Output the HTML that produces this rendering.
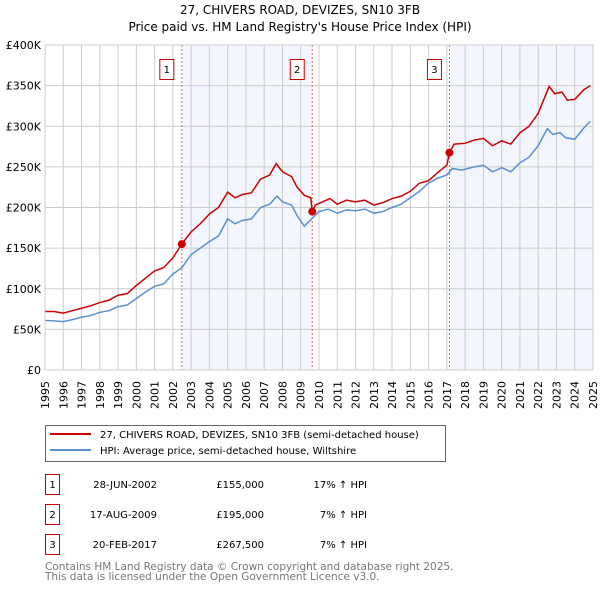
<!DOCTYPE html>
<html><head><meta charset="utf-8"><style>
body{margin:0;background:#fff;font-family:"DejaVu Sans","Liberation Sans",sans-serif;}
svg text{font-family:"DejaVu Sans","Liberation Sans",sans-serif;}
</style></head><body>
<svg id="chart" width="600" height="590" xmlns="http://www.w3.org/2000/svg">
<text x="300" y="14" text-anchor="middle" font-size="12">27, CHIVERS ROAD, DEVIZES, SN10 3FB</text>
<text x="300" y="31" text-anchor="middle" font-size="12">Price paid vs. HM Land Registry's House Price Index (HPI)</text>
<g id="plot"></g>
<g>
<rect x="45.5" y="425.5" width="400" height="36" fill="#fff" stroke="#666"/>
<line x1="50" y1="434" x2="91" y2="434" stroke="#cc0000" stroke-width="2"/>
<text x="100" y="438" font-size="10">27, CHIVERS ROAD, DEVIZES, SN10 3FB (semi-detached house)</text>
<line x1="50" y1="450" x2="91" y2="450" stroke="#5b8fd4" stroke-width="2"/>
<text x="100" y="454" font-size="10">HPI: Average price, semi-detached house, Wiltshire</text>
</g>
<g id="table" font-size="10"></g>
<text x="45" y="570" font-size="10.5" fill="#777">Contains HM Land Registry data © Crown copyright and database right 2025.</text>
<text x="45" y="580" font-size="10.5" fill="#777">This data is licensed under the Open Government Licence v3.0.</text>
</svg>
<script>
const hpiDates=[1995.0,1995.5,1996.0,1996.5,1997.0,1997.5,1998.0,1998.5,1999.0,1999.5,2000.0,2000.5,2001.0,2001.5,2002.0,2002.5,2003.0,2003.5,2004.0,2004.5,2005.0,2005.4,2005.8,2006.3,2006.8,2007.3,2007.7,2008.0,2008.5,2008.8,2009.2,2009.6,2010.0,2010.5,2011.0,2011.5,2012.0,2012.5,2013.0,2013.5,2014.0,2014.5,2015.0,2015.5,2016.0,2016.5,2017.0,2017.3,2017.8,2018.5,2019.0,2019.5,2020.0,2020.5,2021.0,2021.5,2022.0,2022.5,2022.8,2023.2,2023.5,2024.0,2024.5,2024.85];
const hpiValues=[61,60.5,59.5,62,65,67,71,73,78,80,88,96,103,106,118,126,142,150,158,165,186,180,184,186,200,204,214,207,203,190,177,186,195,198,193,197,196,198,193,195,200,204,212,220,230,236,240,248,246,250,252,244,249,244,255,262,276,297,290,292,286,284,298,306];
const priceDates=[1995,1995.5,1996,1996.5,1997,1997.5,1998,1998.5,1999,1999.5,2000,2000.5,2001,2001.5,2002,2002.49,2003,2003.5,2004,2004.5,2005,2005.4,2005.8,2006.3,2006.8,2007.3,2007.65,2008,2008.5,2008.8,2009.2,2009.55,2009.63,2009.8,2010.2,2010.6,2011,2011.5,2012,2012.5,2013,2013.5,2014,2014.5,2015,2015.5,2016,2016.5,2017.0,2017.14,2017.4,2018,2018.5,2019,2019.5,2020,2020.5,2021,2021.5,2022,2022.6,2022.9,2023.3,2023.6,2024.0,2024.5,2024.85];
const priceValues=[72,72,70,73,76,79,83,86,92,94,104,113,122,126,138,155,170,180,192,200,219,212,216,218,235,240,254,244,238,225,215,212,195,203,207,211,204,209,207,209,203,206,211,214,220,230,233,243,252,267.5,278,279,283,285,276,282,278,292,300,316,349,340,342,332,333,345,350];
const saleDates=[2002.49,2009.63,2017.14];
const saleValues=[155,195,267.5];
const saleLabels=["1","2","3"];
const saleDateText=["28-JUN-2002","17-AUG-2009","20-FEB-2017"];
const salePriceText=["£155,000","£195,000","£267,500"];
const saleHpiText=["17% ↑ HPI","7% ↑ HPI","7% ↑ HPI"];
const yTicks=[0,50,100,150,200,250,300,350,400];
const yTickLabels=["£0","£50K","£100K","£150K","£200K","£250K","£300K","£350K","£400K"];
const xTicks=[1995,1996,1997,1998,1999,2000,2001,2002,2003,2004,2005,2006,2007,2008,2009,2010,2011,2012,2013,2014,2015,2016,2017,2018,2019,2020,2021,2022,2023,2024,2025];

const L=45,R=593,T=45,B=370;
const xs=d=>L+(d-1995)/30*(R-L);
const ys=v=>B-v/400*(B-T);
const NS="http://www.w3.org/2000/svg";
const plot=document.getElementById('plot');
function mk(tag,attrs,parent){const e=document.createElementNS(NS,tag);for(const k in attrs)e.setAttribute(k,attrs[k]);(parent||plot).appendChild(e);return e;}

mk('rect',{x:L,y:T,width:R-L,height:B-T,fill:'#fff'});
const bands=[[saleDates[0],saleDates[1]],[saleDates[2],2025]];
bands.forEach((b,i)=>{const r=mk('rect',{x:xs(b[0]),y:T,width:xs(b[1])-xs(b[0]),height:B-T,fill:'#f3f6fd'});

});
xTicks.forEach((t,i)=>{const l=mk('line',{x1:xs(t),x2:xs(t),y1:T,y2:B,stroke:'#ccc','stroke-width':1});


const x=xs(t)+4,y=B+11;
const tx=mk('text',{x:x,y:y,'text-anchor':'end','font-size':11,transform:'rotate(-90 '+x+' '+y+')'});tx.textContent=t;

});
yTicks.forEach((t,i)=>{const l=mk('line',{x1:L,x2:R,y1:ys(t),y2:ys(t),stroke:'#ccc','stroke-width':1});


const tx=mk('text',{x:L-4,y:ys(t)+4,'text-anchor':'end','font-size':11});tx.textContent=yTickLabels[i];

});
saleDates.forEach((d,i)=>{const l=mk('line',{x1:xs(d),x2:xs(d),y1:T,y2:B,stroke:'#e06666','stroke-dasharray':'2,2','stroke-width':1});


const g=mk('g',{});


mk('rect',{x:xs(d)-22,y:59.5,width:14,height:20,fill:'#fff',stroke:'#cc0000'},g);
const t=mk('text',{x:xs(d)-15,y:73,'text-anchor':'middle','font-size':10},g);t.textContent=saleLabels[i];});
const hp=mk('polyline',{points:hpiDates.map((d,i)=>xs(d)+','+ys(hpiValues[i])).join(' '),fill:'none',stroke:'#5b8fd4','stroke-width':1.5});


const pp=mk('polyline',{points:priceDates.map((d,i)=>xs(d)+','+ys(priceValues[i])).join(' '),fill:'none',stroke:'#cc0000','stroke-width':1.5});


saleDates.forEach((d,i)=>{const c=mk('circle',{cx:xs(d),cy:ys(saleValues[i]),r:4,fill:'#cc0000'});

});
mk('rect',{x:L,y:T,width:R-L,height:B-T,fill:'none',stroke:'#ccc'});

const tbl=document.getElementById('table');
saleDates.forEach((d,i)=>{const y=485+i*30;
const g=mk('g',{},tbl);


mk('rect',{x:45.5,y:y-10.5,width:14,height:20,fill:'#fff',stroke:'#cc0000'},g);
let t=mk('text',{x:52.5,y:y+3,'text-anchor':'middle'},g);t.textContent=saleLabels[i];
t=mk('text',{x:157,y:y+3,'text-anchor':'end'},g);t.textContent=saleDateText[i];
t=mk('text',{x:264,y:y+3,'text-anchor':'end'},g);t.textContent=salePriceText[i];
t=mk('text',{x:367,y:y+3,'text-anchor':'end'},g);t.textContent=saleHpiText[i];});
</script>
</body></html>
